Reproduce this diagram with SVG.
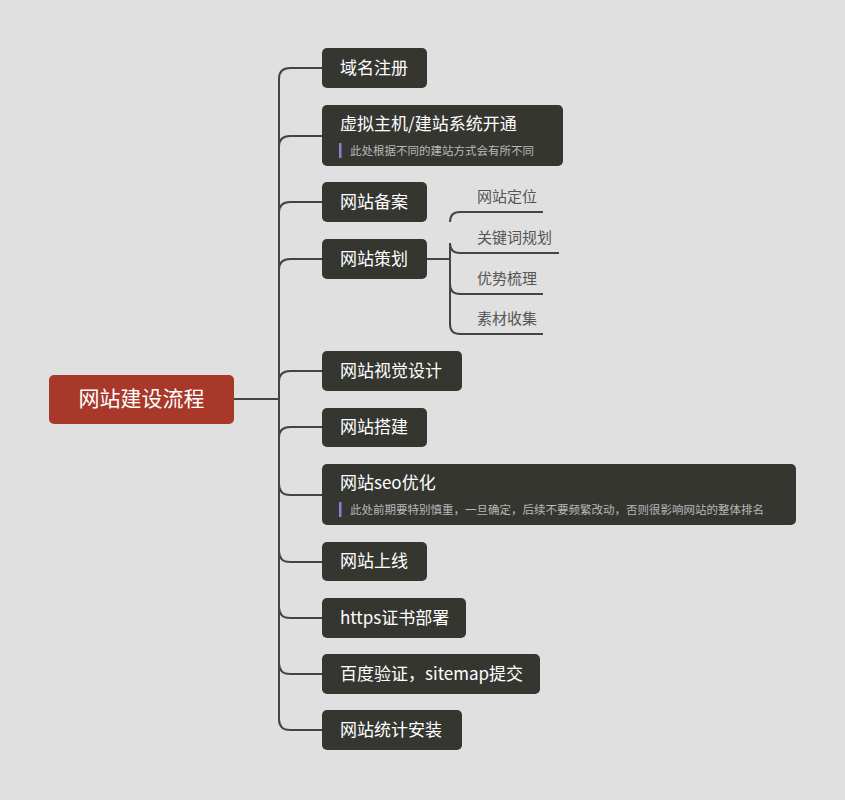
<svg xmlns="http://www.w3.org/2000/svg" width="845" height="800" viewBox="0 0 845 800">
<style>
.n{fill:#363631}
.t{fill:#fff;font-family:"Noto Sans CJK SC","Noto Sans",sans-serif;font-size:17px}
.d{fill:#b8b8b8;font-family:"Noto Sans CJK SC","Noto Sans",sans-serif;font-size:11.5px}
.s{fill:#555;font-family:"Noto Sans CJK SC","Noto Sans",sans-serif;font-size:15px}
.c{fill:none;stroke:#444;stroke-width:2}
</style>
<rect width="845" height="800" fill="#e0e0e0"/>
<g id="connectors">
<path class="c" d="M234,399H279M279,79V720"/>
<path class="c" d="M279,79Q279,68 290,68H322M279,147Q279,136 290,136H322M279,213Q279,202 290,202H322M279,270Q279,259 290,259H322M279,382Q279,371 290,371H322M279,438Q279,427 290,427H322"/>
<path class="c" d="M279,484Q279,495 290,495H322M279,551Q279,562 290,562H322M279,607Q279,618 290,618H322M279,663Q279,674 290,674H322M279,719Q279,730 290,730H322"/>
<path class="c" d="M427,259H450M450,222Q450,212 460,212H543M450,259V243Q450,253 460,253H559M450,259V284Q450,294 460,294H543M450,284V324Q450,334 460,334H543"/>
</g>
<g id="root"><rect x="49" y="375" width="185" height="49" rx="5" fill="#a8382a"/><text x="141.5" y="406" text-anchor="middle" class="t" style="font-size:21px">网站建设流程</text></g>
<g id="n1"><rect class="n" x="322" y="48" width="105" height="40" rx="5"/><text class="t" x="340" y="74">域名注册</text></g>
<g id="n2"><rect class="n" x="322" y="105" width="241" height="61" rx="5"/><text class="t" x="340" y="130">虚拟主机/建站系统开通</text><rect x="339" y="143" width="2.5" height="15" fill="#8a7fd6"/><text class="d" x="350" y="155">此处根据不同的建站方式会有所不同</text></g>
<g id="n3"><rect class="n" x="322" y="182" width="105" height="40" rx="5"/><text class="t" x="340" y="208">网站备案</text></g>
<g id="n4"><rect class="n" x="322" y="239" width="105" height="40" rx="5"/><text class="t" x="340" y="265">网站策划</text></g>
<g id="s1"><text class="s" x="477" y="202">网站定位</text></g>
<g id="s2"><text class="s" x="477" y="243">关键词规划</text></g>
<g id="s3"><text class="s" x="477" y="284">优势梳理</text></g>
<g id="s4"><text class="s" x="477" y="324">素材收集</text></g>
<g id="n5"><rect class="n" x="322" y="351" width="140" height="40" rx="5"/><text class="t" x="340" y="377">网站视觉设计</text></g>
<g id="n6"><rect class="n" x="322" y="408" width="105" height="39" rx="5"/><text class="t" x="340" y="433">网站搭建</text></g>
<g id="n7"><rect class="n" x="322" y="464" width="474" height="61" rx="5"/><text class="t" x="340" y="489">网站seo优化</text><rect x="339" y="502" width="2.5" height="15" fill="#8a7fd6"/><text class="d" x="350" y="514">此处前期要特别慎重，一旦确定，后续不要频繁改动，否则很影响网站的整体排名</text></g>
<g id="n8"><rect class="n" x="322" y="542" width="105" height="39" rx="5"/><text class="t" x="340" y="567">网站上线</text></g>
<g id="n9"><rect class="n" x="322" y="598" width="144" height="40" rx="5"/><text class="t" x="340" y="624">https证书部署</text></g>
<g id="n10"><rect class="n" x="322" y="654" width="218" height="40" rx="5"/><text class="t" x="340" y="680">百度验证，sitemap提交</text></g>
<g id="n11"><rect class="n" x="322" y="710" width="140" height="40" rx="5"/><text class="t" x="340" y="736">网站统计安装</text></g>
</svg>
